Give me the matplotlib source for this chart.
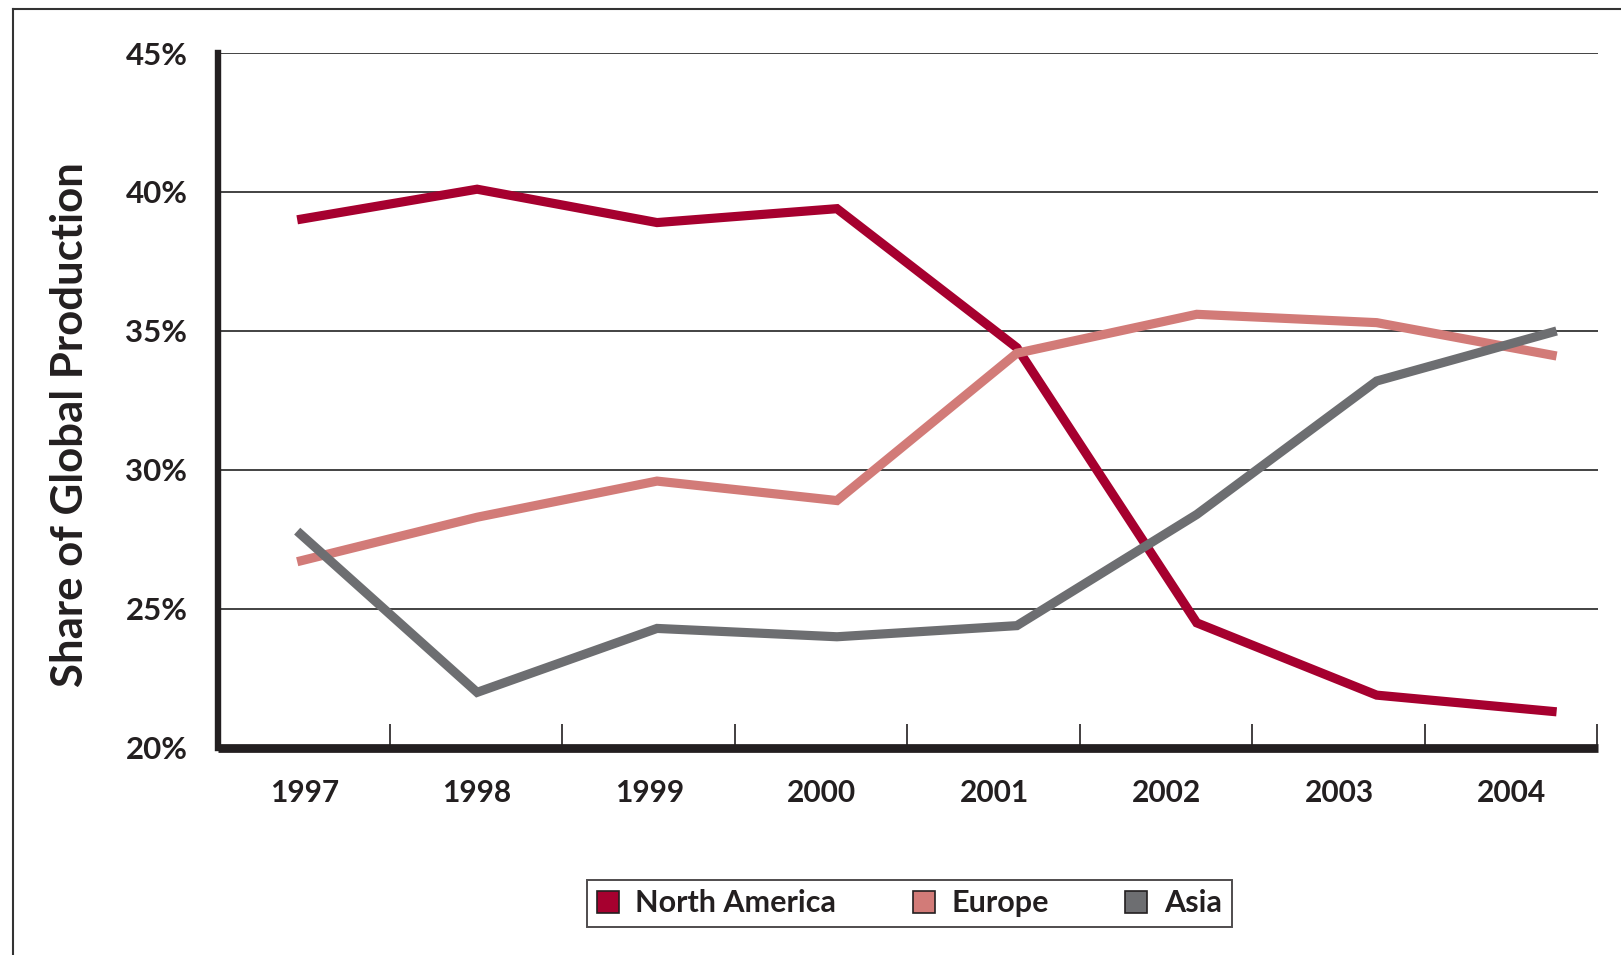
import numpy as np
import matplotlib.pyplot as plt
from matplotlib.patches import Patch
from matplotlib.lines import Line2D

years = [1997, 1998, 1999, 2000, 2001, 2002, 2003, 2004]
north_america = [39.0, 40.1, 38.9, 39.4, 34.4, 24.5, 21.9, 21.3]
europe = [26.7, 28.3, 29.6, 28.9, 34.2, 35.6, 35.3, 34.1]
asia = [27.8, 22.0, 24.3, 24.0, 24.4, 28.4, 33.2, 35.0]

series = ["North America", "Europe", "Asia"]
colors = ["#a6002f", "#d27b78", "#6d6e71"]
ink = "#231f20"

plt.rcParams['font.family'] = ['Lato', 'DejaVu Sans']
plt.rcParams['font.weight'] = 'bold'

fig = plt.figure(figsize=(16.21, 9.55), dpi=100)
ax = fig.add_axes([0.1345, 0.2168, 0.8513, 0.7277])

for vals, name, c in zip([north_america, europe, asia], series, colors):
    ax.plot(years, vals, color=c, lw=6.6, solid_joinstyle='miter',
            solid_capstyle='butt', label=name, zorder=3)

ax.set_ylim(20, 45)
ax.set_yticks([20, 25, 30, 35, 40, 45])
ax.set_yticklabels([f"{v}%" for v in [20, 25, 30, 35, 40, 45]])
ax.yaxis.grid(True, color="#222222", lw=1.2)
ax.set_axisbelow(True)

x0, x1 = 1996.56, 2004.23
ax.set_xlim(x0, x1)
edges = np.linspace(x0, x1, 9)
centers = (edges[:-1] + edges[1:]) / 2
ax.set_xticks(centers)
ax.set_xticklabels([str(y) for y in years])
ax.set_xticks(edges[1:] - 0.005, minor=True)
ax.tick_params(axis='x', which='major', length=0, pad=22, labelsize=21.5, colors=ink)
ax.tick_params(axis='x', which='minor', direction='in', length=17, width=1.2, color=ink)
ax.tick_params(axis='y', length=0, pad=22, labelsize=22.5, colors=ink)

for s in ['top', 'right']:
    ax.spines[s].set_visible(False)
ax.spines['left'].set_linewidth(4.6)
ax.spines['left'].set_color(ink)
ax.spines['bottom'].set_linewidth(6.3)
ax.spines['bottom'].set_color(ink)
ax.spines['bottom'].set_capstyle('butt')

fig.text(0.043, 0.555, "Share of Global Production", rotation=90,
         ha='center', va='center', fontsize=31.5, color=ink, fontweight='bold')

handles = [Patch(facecolor=c, edgecolor=ink, lw=1.2) for c in colors]
leg = fig.legend(handles, series, loc='center', bbox_to_anchor=(0.561, 0.054),
                 ncol=3, frameon=True, fancybox=False, fontsize=22,
                 handlelength=0.72, handleheight=0.72, handletextpad=0.55,
                 columnspacing=2.5, borderpad=0.32, borderaxespad=0)
leg.get_frame().set_edgecolor(ink)
leg.get_frame().set_linewidth(1.4)
for t in leg.get_texts():
    t.set_color(ink)

# outer frame: left and top edges only
fig.add_artist(Line2D([13 / 1621, 13 / 1621], [0, 1 - 9 / 955],
                      transform=fig.transFigure, color="#333333", lw=1.5))
fig.add_artist(Line2D([13 / 1621, 1], [1 - 9 / 955, 1 - 9 / 955],
                      transform=fig.transFigure, color="#333333", lw=1.5))

fig.savefig("out.png", dpi=100, facecolor="white")
